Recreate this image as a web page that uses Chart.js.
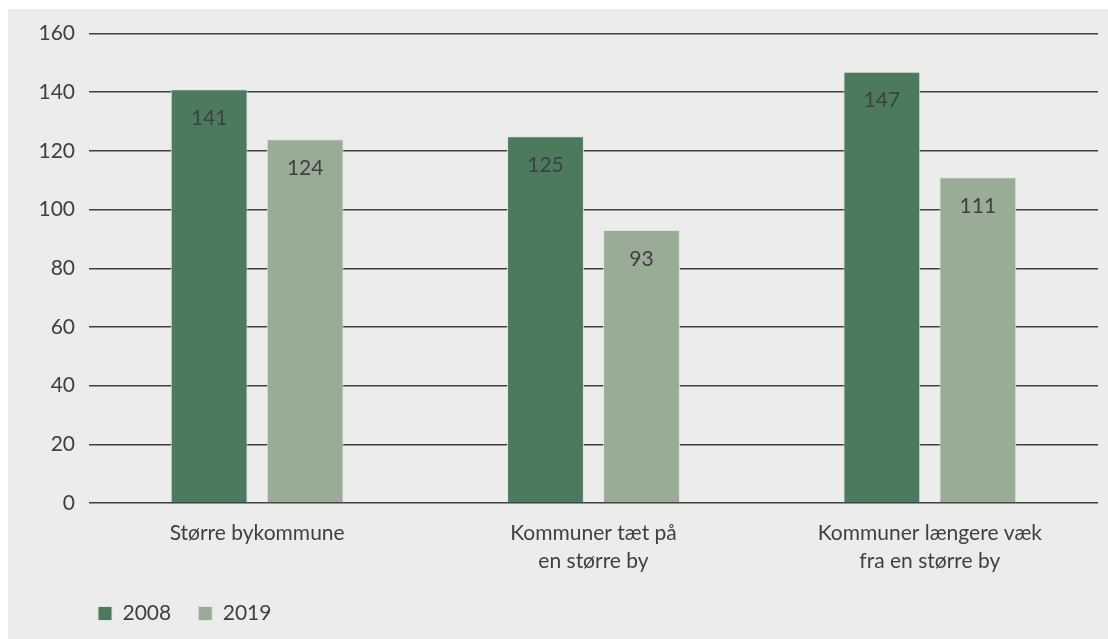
<!DOCTYPE html>
<html>
<head>
<meta charset="utf-8">
<script src="https://cdn.jsdelivr.net/npm/chart.js@4/dist/chart.umd.min.js"></script>
<style>
  html, body { margin: 0; padding: 0; background: #ffffff; }
  #wrap { position: absolute; left: 8px; top: 9px; width: 1100px; height: 630px; background: #ececec; }
</style>
</head>
<body>
<div id="wrap"><canvas id="chart" width="1100" height="630"></canvas></div>
<script>
// categories and series
var categories = [['Større bykommune'], ['Kommuner tæt på', 'en større by'], ['Kommuner længere væk', 'fra en større by']];
var seriesNames = ['2008', '2019'];
var values2008 = [141, 125, 147];
var values2019 = [124, 93, 111];
var yTicks = [0, 20, 40, 60, 80, 100, 120, 140, 160];

var textColor = '#404040';
var fontFam = 'Lato, "Noto Sans", sans-serif';
Chart.defaults.font.family = fontFam;
Chart.defaults.font.size = 21;
Chart.defaults.color = textColor;

// labels inside top of each bar
var barLabels = {
  id: 'barLabels',
  afterDatasetsDraw: function(chart){
    var ctx = chart.ctx;
    ctx.save();
    ctx.font = '21px ' + fontFam;
    ctx.fillStyle = textColor;
    ctx.textAlign = 'center';
    ctx.textBaseline = 'middle';
    chart.data.datasets.forEach(function(ds, i){
      chart.getDatasetMeta(i).data.forEach(function(bar, j){
        ctx.fillText(String(ds.data[j]), bar.x, bar.y + 29);
      });
    });
    ctx.restore();
  }
};

// legend sits under the plot, not at the canvas edge
var legendShift = {
  id: 'legendShift',
  afterLayout: function(chart){
    chart.legend.left += 63;
  }
};

new Chart(document.getElementById('chart').getContext('2d'), {
  type: 'bar',
  data: {
    labels: categories,
    datasets: [
      { label: seriesNames[0], data: values2008, backgroundColor: '#4b7a5c', borderColor: '#dde3dd', borderWidth: 1,
        categoryPercentage: 0.571, barPercentage: 0.8 },
      { label: seriesNames[1], data: values2019, backgroundColor: '#99ad96', borderColor: '#dde3dd', borderWidth: 1,
        categoryPercentage: 0.571, barPercentage: 0.8 }
    ]
  },
  options: {
    responsive: false,
    animation: false,
    layout: { padding: { left: 0, right: 10, top: 23, bottom: 5 } },
    plugins: {
      legend: {
        position: 'bottom',
        align: 'start',
        labels: { boxWidth: 14, boxHeight: 14, padding: 27, color: textColor, font: { size: 21 } }
      },
      tooltip: { enabled: false }
    },
    scales: {
      x: {
        grid: { display: false, drawTicks: false },
        border: { display: false },
        ticks: { padding: 16, color: textColor, font: { size: 21, lineHeight: 1.35 }, maxRotation: 0, autoSkip: false },
        afterFit: function(scale){ scale.height = 73; }
      },
      y: {
        min: 0,
        max: 160,
        afterBuildTicks: function(scale){ scale.ticks = yTicks.map(function(v){ return { value: v }; }); },
        grid: { color: '#3f3f3f', lineWidth: 1.5, drawTicks: false },
        border: { display: false },
        ticks: { padding: 14, color: textColor, font: { size: 21, lineHeight: 1 } },
        afterFit: function(scale){ scale.width = 81; }
      }
    }
  },
  plugins: [barLabels, legendShift]
});
</script>
</body>
</html>
